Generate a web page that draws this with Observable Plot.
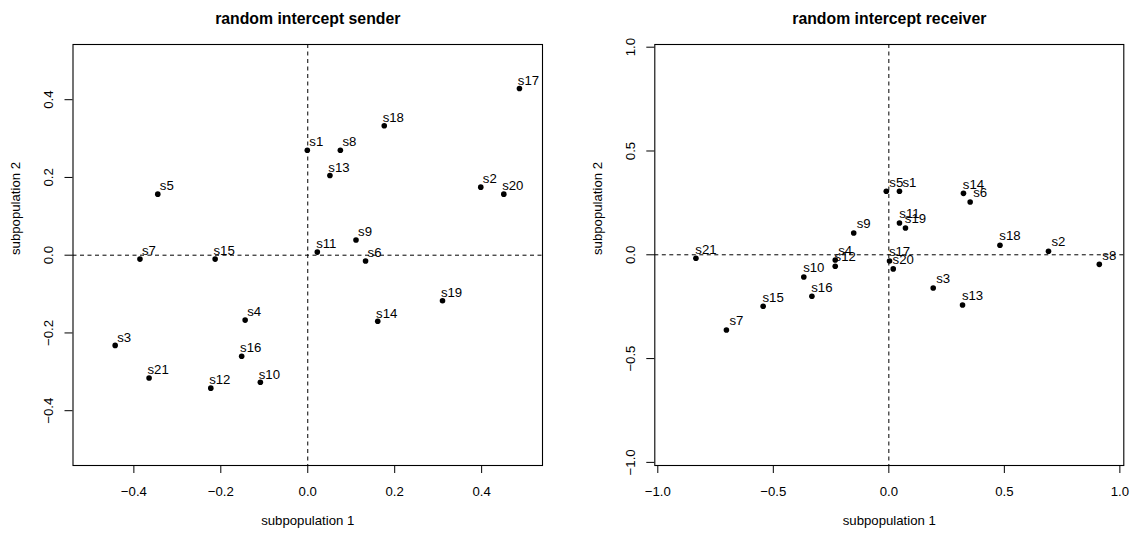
<!DOCTYPE html>
<html>
<head>
<meta charset="utf-8">
<script src="https://cdn.jsdelivr.net/npm/d3@7"></script>
<script src="https://cdn.jsdelivr.net/npm/@observablehq/plot@0.6"></script>
<style>
  html, body { margin: 0; padding: 0; background: #fff; }
  #wrap { display: flex; width: 1132px; height: 533px; }
  svg { display: block; }
</style>
</head>
<body>
<div id="wrap"></div>
<script>
const names = ["s1","s2","s3","s4","s5","s6","s7","s8","s9","s10","s11","s12","s13","s14","s15","s16","s17","s18","s19","s20","s21"];

const senderX = [-0.001, 0.398, -0.443, -0.144, -0.345, 0.133, -0.386, 0.075, 0.111, -0.109, 0.022, -0.223, 0.051, 0.161, -0.213, -0.152, 0.487, 0.176, 0.310, 0.451, -0.365];
const senderY = [0.270, 0.175, -0.232, -0.167, 0.157, -0.015, -0.010, 0.270, 0.039, -0.327, 0.008, -0.342, 0.205, -0.170, -0.010, -0.260, 0.429, 0.333, -0.117, 0.157, -0.316];

const receiverX = [0.046, 0.691, 0.192, -0.232, -0.011, 0.352, -0.703, 0.911, -0.152, -0.368, 0.046, -0.232, 0.319, 0.323, -0.544, -0.333, 0.003, 0.481, 0.072, 0.019, -0.835];
const receiverY = [0.306, 0.017, -0.160, -0.025, 0.306, 0.254, -0.362, -0.046, 0.105, -0.107, 0.153, -0.055, -0.242, 0.296, -0.248, -0.200, -0.030, 0.046, 0.129, -0.068, -0.017];

const senderTicks = [-0.4, -0.2, 0.0, 0.2, 0.4];
const receiverTicks = [-1.0, -0.5, 0.0, 0.5, 1.0];

const titles = ["random intercept sender", "random intercept receiver"];
const xLabel = "subpopulation 1";
const yLabel = "subpopulation 2";

const fmt = d3.format(".1f");
const FS = 13.2;

function panel({xs, ys, ticks, xDomain, yDomain, title, marginLeft, marginRight, labelDx, labelDy}) {
  const data = names.map((n, i) => ({name: n, x: xs[i], y: ys[i]}));
  return Plot.plot({
    width: 566,
    height: 533,
    marginLeft,
    marginRight,
    marginTop: 44,
    marginBottom: 68,
    style: {fontFamily: "'Liberation Sans', Arial, Helvetica, sans-serif", fontSize: FS + "px", background: "white", color: "black"},
    x: {domain: xDomain, label: null},
    y: {domain: yDomain, label: null},
    marks: [
      Plot.ruleX([0], {stroke: "black", strokeWidth: 1, strokeDasharray: "4,3.5"}),
      Plot.ruleY([0], {stroke: "black", strokeWidth: 1, strokeDasharray: "4,3.5"}),
      Plot.frame({stroke: "black", strokeWidth: 1.1}),
      Plot.axisX({ticks, tickSize: 8, tickPadding: 13, tickFormat: fmt, fontSize: FS, label: null, stroke: "black"}),
      Plot.axisY({ticks, tickSize: 8, tickFormat: () => "", label: null, stroke: "black"}),
      Plot.text(ticks, {y: d => d, text: d => fmt(d), frameAnchor: "left", rotate: -90, dx: -24.5, textAnchor: "middle", lineAnchor: "middle", fontSize: FS, fill: "black"}),
      Plot.dot(data, {x: "x", y: "y", r: 2.8, fill: "black", stroke: null}),
      Plot.text(data, {x: "x", y: "y", text: "name", dx: labelDx, dy: labelDy, fontSize: FS, fill: "black"}),
      Plot.text([title], {frameAnchor: "top", dy: -32, fontSize: 15.8, fontWeight: "bold", fill: "black"}),
      Plot.text([xLabel], {frameAnchor: "bottom", dy: 59.3, fontSize: FS, fill: "black"}),
      Plot.text([yLabel], {frameAnchor: "left", dx: -57, rotate: -90, fontSize: FS, fill: "black"})
    ]
  });
}

const wrap = document.getElementById("wrap");
wrap.appendChild(panel({
  xs: senderX, ys: senderY, ticks: senderTicks,
  xDomain: [-0.54, 0.54], yDomain: [-0.541, 0.542],
  title: titles[0], marginLeft: 72.5, marginRight: 24, labelDx: 9, labelDy: -8
}));
wrap.appendChild(panel({
  xs: receiverX, ys: receiverY, ticks: receiverTicks,
  xDomain: [-1.013, 1.017], yDomain: [-1.015, 1.013],
  title: titles[1], marginLeft: 88.3, marginRight: 8.7, labelDx: 10, labelDy: -9
}));
</script>
</body>
</html>
